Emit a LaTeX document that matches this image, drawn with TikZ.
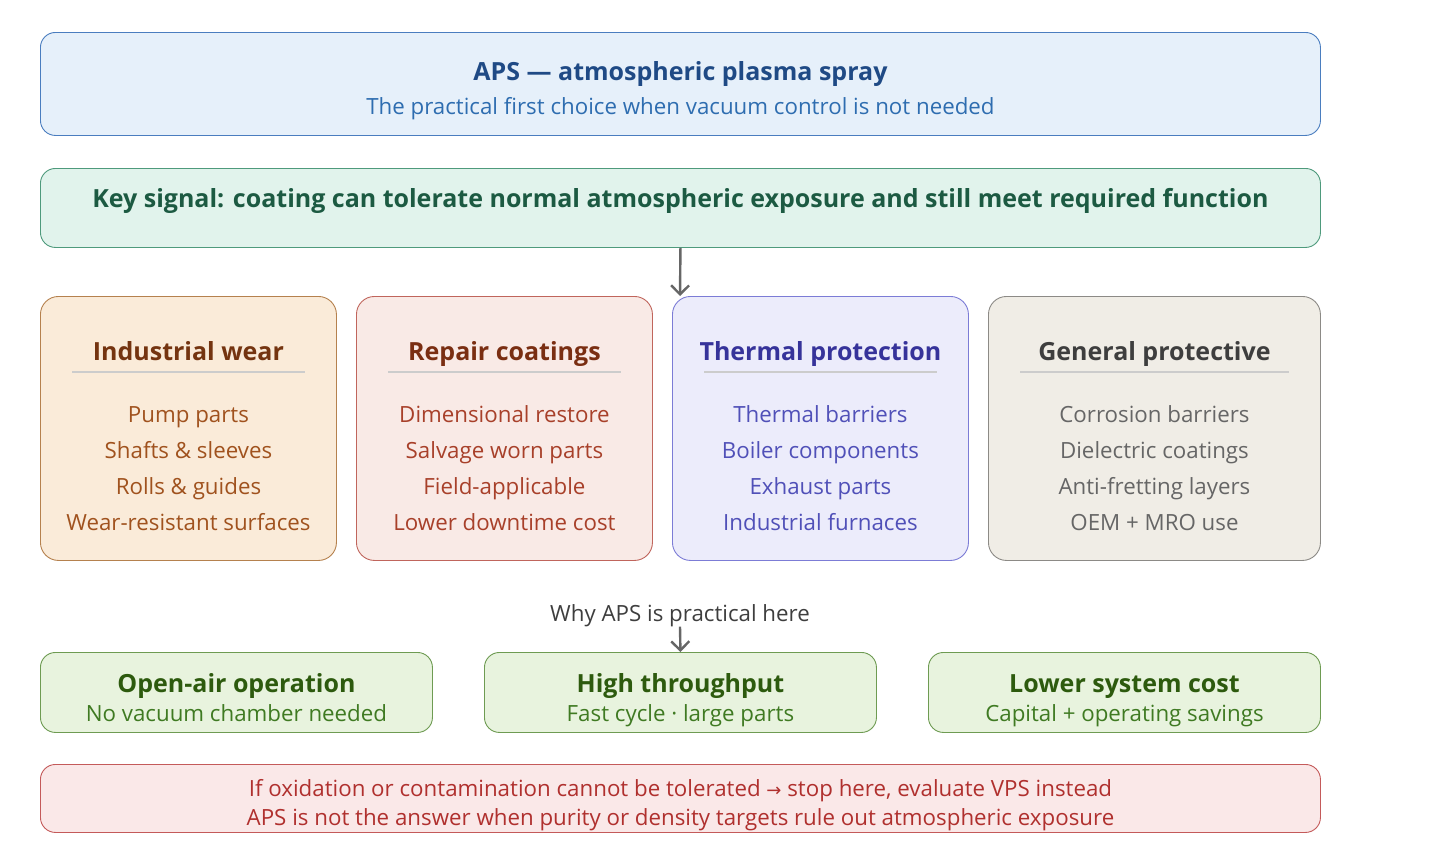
\documentclass[tikz,border=0pt]{standalone}
\usepackage{fontspec}
\setmainfont{Open Sans}
\newfontfamily\symfont{DejaVu Sans}
\usetikzlibrary{arrows.meta,positioning,calc}

\definecolor{apsFill}{HTML}{E6F0FA}
\definecolor{apsLine}{HTML}{4A7DBF}
\definecolor{apsDark}{HTML}{1F4A85}
\definecolor{apsText}{HTML}{2E6DB0}
\definecolor{keyFill}{HTML}{E1F3EC}
\definecolor{keyLine}{HTML}{4E9A7C}
\definecolor{keyText}{HTML}{1C5A42}
\definecolor{wearFill}{HTML}{FAEBD9}
\definecolor{wearLine}{HTML}{B5814E}
\definecolor{wearDark}{HTML}{743410}
\definecolor{wearText}{HTML}{A0521E}
\definecolor{repFill}{HTML}{F9EAE6}
\definecolor{repLine}{HTML}{C0655C}
\definecolor{repDark}{HTML}{7A2E12}
\definecolor{repText}{HTML}{A8402A}
\definecolor{thFill}{HTML}{ECECFB}
\definecolor{thLine}{HTML}{7C7CD6}
\definecolor{thDark}{HTML}{36339A}
\definecolor{thText}{HTML}{5050B8}
\definecolor{genFill}{HTML}{F0EDE6}
\definecolor{genLine}{HTML}{8C8A86}
\definecolor{genDark}{HTML}{3E3E3E}
\definecolor{genText}{HTML}{666666}
\definecolor{whyFill}{HTML}{E8F3DE}
\definecolor{whyLine}{HTML}{6E9B52}
\definecolor{whyDark}{HTML}{2D5A0E}
\definecolor{whyText}{HTML}{3F7A22}
\definecolor{stopFill}{HTML}{FAE8E8}
\definecolor{stopLine}{HTML}{C45A5A}
\definecolor{stopText}{HTML}{B0302E}
\definecolor{arrowGray}{HTML}{666666}
\definecolor{ruleGray}{HTML}{CCCCCC}

\begin{document}
\begin{tikzpicture}[
  x=1pt, y=-1pt,
  every node/.style={inner sep=0pt, anchor=base},
  box/.style={draw, rounded corners=15pt, line width=0.9pt, anchor=north west},
  card/.style={box, rounded corners=18pt, minimum width=296pt, minimum height=264pt},
  head/.style={font=\fontsize{25}{30}\selectfont\bfseries},
  item/.style={font=\fontsize{22.3}{27}\selectfont},
  flow/.style={draw=arrowGray, line width=2.4pt, -{Straight Barb[length=9pt,width=18pt]}}
]
  \useasboundingbox (0,0) rectangle (1440,860);

  % --- Kopf ---
  \node (aps) [box, fill=apsFill, draw=apsLine, minimum width=1280pt, minimum height=103pt] at (40,32) {};
  \node (apsT) [head, text=apsDark] at ($(aps.north)+(0,48)$) {APS — atmospheric plasma spray};
  \node (apsS) [item, text=apsText] at ($(aps.north)+(0,82)$) {The practical first choice when vacuum control is not needed};

  \node (key) [box, fill=keyFill, draw=keyLine, minimum width=1280pt, minimum height=79pt] at (40,168) {};
  \node (keyT) [head, text=keyText] at ($(key.north)+(0,39)$) {Key signal: coating can tolerate normal atmospheric exposure and still meet required function};

  % --- Anwendungsfelder ---
  \node (wear) [card, fill=wearFill, draw=wearLine] at (40,296) {};
  \node (rep)  [card, fill=repFill,  draw=repLine]  at (356,296) {};
  \node (th)   [card, fill=thFill,   draw=thLine]   at (672,296) {};
  \node (gen)  [card, fill=genFill,  draw=genLine, minimum width=332pt] at (988,296) {};

  \foreach \b/\dark/\txt/\t/\i/\ii/\iii/\iv in {
      wear/wearDark/wearText/Industrial wear/Pump parts/Shafts \& sleeves/Rolls \& guides/Wear-resistant surfaces,
      rep/repDark/repText/Repair coatings/Dimensional restore/Salvage worn parts/Field-applicable/Lower downtime cost,
      th/thDark/thText/Thermal protection/Thermal barriers/Boiler components/Exhaust parts/Industrial furnaces,
      gen/genDark/genText/General protective/Corrosion barriers/Dielectric coatings/Anti-fretting layers/OEM + MRO use}{
    \node (\b-t) [head, text=\dark] at ($(\b.north)+(0,64)$) {\t};
    \draw[ruleGray, line width=1.5pt] ($(\b.north west)+(32,76)$) -- ($(\b.north east)+(-32,76)$);
    \node (\b-1) [item, text=\txt] at ($(\b.north)+(0,126)$) {\i};
    \node (\b-2) [item, text=\txt] at ($(\b.north)+(0,162)$) {\ii};
    \node (\b-3) [item, text=\txt] at ($(\b.north)+(0,198)$) {\iii};
    \node (\b-4) [item, text=\txt] at ($(\b.north)+(0,234)$) {\iv};
  }

  \coordinate (split) at (680,296);
  \draw[flow] (key.south) -- (split);

  % --- Warum APS ---
  \node (why) [item, text=genDark] at (680,621) {Why APS is practical here};

  \node (air)  [box, fill=whyFill, draw=whyLine, minimum width=392pt, minimum height=80pt] at (40,652) {};
  \node (thru) [box, fill=whyFill, draw=whyLine, minimum width=392pt, minimum height=80pt] at (484,652) {};
  \node (cost) [box, fill=whyFill, draw=whyLine, minimum width=392pt, minimum height=80pt] at (928,652) {};

  \foreach \b/\t/\s in {
      air/Open-air operation/No vacuum chamber needed,
      thru/High throughput/Fast cycle · large parts,
      cost/Lower system cost/Capital + operating savings}{
    \node (\b-t) [head, text=whyDark] at ($(\b.north)+(0,40)$) {\t};
    \node (\b-s) [item, text=whyText] at ($(\b.north)+(0,69)$) {\s};
  }

  \draw[flow] (why.south) -- (thru.north);

  % --- Abbruchkriterium ---
  \node (stop) [box, fill=stopFill, draw=stopLine, minimum width=1280pt, minimum height=68pt] at (40,764) {};
  \node (stop1) [item, text=stopText] at ($(stop.north)+(0,32)$) {If oxidation or contamination cannot be tolerated {\symfont\fontsize{18}{22}\selectfont →} stop here, evaluate VPS instead};
  \node (stop2) [item, text=stopText] at ($(stop.north)+(0,61)$) {APS is not the answer when purity or density targets rule out atmospheric exposure};
\end{tikzpicture}
\end{document}
